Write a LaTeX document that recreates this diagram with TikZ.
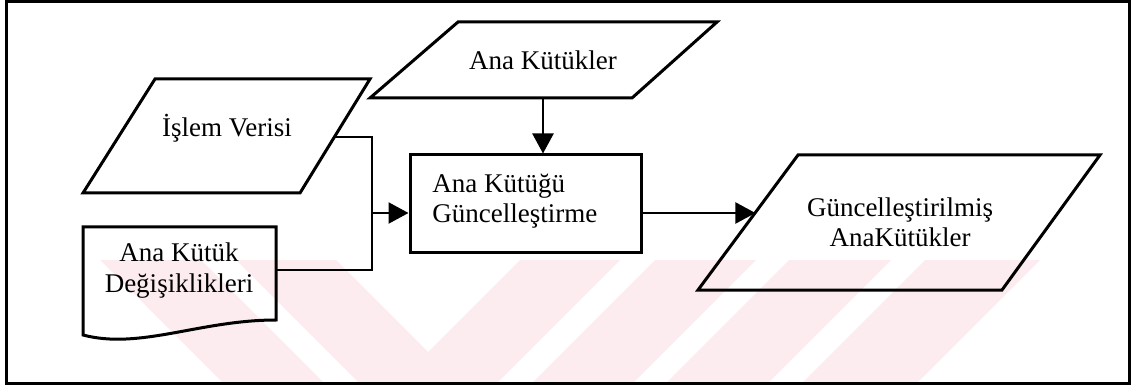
\documentclass[tikz,border=0pt]{standalone}
\usepackage{fontspec}
\setmainfont{Liberation Serif}
\usetikzlibrary{arrows.meta}
\definecolor{wmpink}{RGB}{253,236,239}
\begin{document}
\begin{tikzpicture}[x=0.5pt,y=-0.5pt,
  shapeline/.style={line width=1.5pt,line join=miter},
  conn/.style={line width=1.2pt},
  arr/.style={conn,-{Triangle[length=10pt,width=10.5pt]}},
  lbl/.style={inner sep=0pt,anchor=base,font=\fontsize{13.5}{15}\selectfont},
  procbox/.style={draw,line width=1.5pt,minimum width=115.5pt,minimum height=48.5pt,inner sep=0pt},
]
\useasboundingbox (0,0) rectangle (1131,390);

% faint background stripes
\begin{scope}
  \clip (6,260) rectangle (1129,383);
  \fill[wmpink] (100,260) -- (201,260) -- (324,383) -- (223,383) -- cycle;
  \fill[wmpink] (236,260) -- (336,260) -- (459,383) -- (359,383) -- cycle;
  \fill[wmpink] (520,260) -- (620,260) -- (497,383) -- (397,383) -- cycle;
  \fill[wmpink] (655,260) -- (756,260) -- (633,383) -- (532,383) -- cycle;
  \fill[wmpink] (789,260) -- (891,260) -- (768,383) -- (666,383) -- cycle;
  \fill[wmpink] (925,260) -- (1040,260) -- (917,383) -- (802,383) -- cycle;
\end{scope}

% outer frame
\draw[line width=1.5pt] (6,2) rectangle (1129,383);

% input data
\coordinate (iv1) at (155,79);
\coordinate (iv2) at (370,79);
\coordinate (iv3) at (300,193);
\coordinate (iv4) at (83,193);
\draw[shapeline] (iv1) -- (iv2) -- (iv3) -- (iv4) -- cycle;
\node[lbl] (ivtxt) at (227,137) {İşlem Verisi};

% master files
\coordinate (ak1) at (458,22);
\coordinate (ak2) at (717,22);
\coordinate (ak3) at (632,98);
\coordinate (ak4) at (370,98);
\draw[shapeline] (ak1) -- (ak2) -- (ak3) -- (ak4) -- cycle;
\node[lbl] (aktxt) at (543,70) {Ana Kütükler};

% change document
\coordinate (dc1) at (83,227);
\coordinate (dc2) at (276,227);
\coordinate (dc3) at (276,320);
\coordinate (dc4) at (83,335);
\draw[shapeline] (dc1) -- (dc2) -- (dc3) .. controls (200,320) and (140,350) .. (dc4) -- cycle;
\node[lbl] (dctxt) at (179,262)
  {\fontsize{13.5}{15.5}\selectfont\begin{tabular}[t]{@{}c@{}}Ana Kütük\\Değişiklikleri\end{tabular}};

% update process
\node[procbox] (upd) at (525.5,203.5) {};
\node[lbl,anchor=base west] (updtxt) at (432,192)
  {\begin{tabular}[t]{@{}l@{}}Ana Kütüğü\\Güncelleştirme\end{tabular}};

% updated master files
\coordinate (gk1) at (798,155);
\coordinate (gk2) at (1100,155);
\coordinate (gk3) at (1002,290);
\coordinate (gk4) at (698,290);
\draw[shapeline] (gk1) -- (gk2) -- (gk3) -- (gk4) -- cycle;
\node[lbl] (gktxt) at (900,217)
  {\begin{tabular}[t]{@{}c@{}}Güncelleştirilmiş\\AnaKütükler\end{tabular}};

% connectors
\coordinate (ivR) at (334.4,137);
\coordinate (docR) at (276,270);
\coordinate (jn) at (372,213);
\coordinate (akB) at (543,98);
\coordinate (gkL) at (755.4,213);
\draw[conn] (ivR) -| (jn) |- (docR);
\draw[arr] (jn) -- (jn -| upd.west);
\draw[arr] (akB) -- (akB |- upd.north);
\draw[arr] (jn -| upd.east) -- (gkL);
\end{tikzpicture}
\end{document}
